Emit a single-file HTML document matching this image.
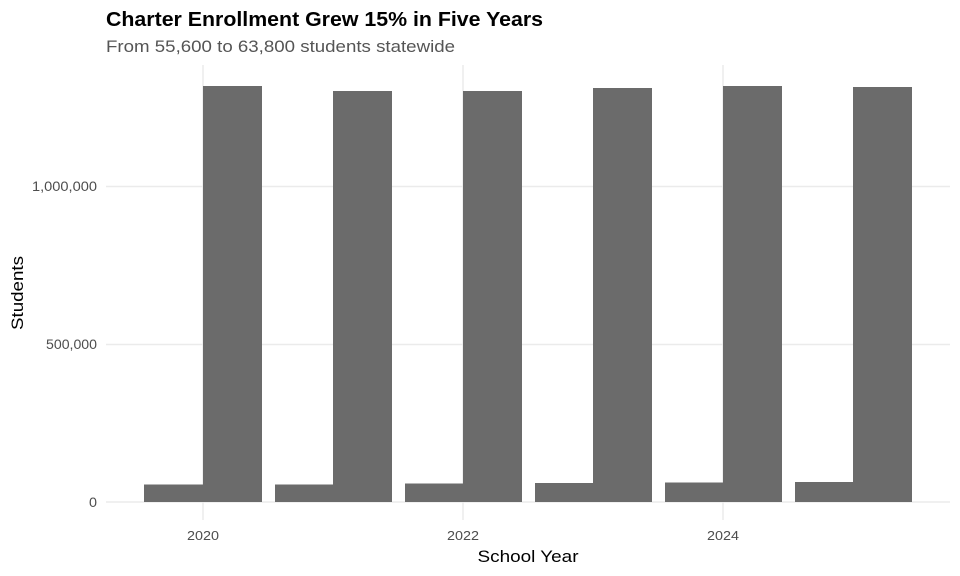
<!DOCTYPE html>
<html><head><meta charset="utf-8"><style>
body{margin:0;background:#fff}
svg{display:block}
text{font-family:"Liberation Sans",Arial,sans-serif}
</style></head><body>
<svg width="960" height="576" xmlns="http://www.w3.org/2000/svg">
<rect width="960" height="576" fill="#fff"/>
<g stroke="#ebebeb" stroke-width="1.5">
<line x1="106" x2="950" y1="502" y2="502"/>
<line x1="106" x2="950" y1="344.5" y2="344.5"/>
<line x1="106" x2="950" y1="186.5" y2="186.5"/>
<line x1="203" x2="203" y1="65" y2="520"/>
<line x1="463" x2="463" y1="65" y2="520"/>
<line x1="723" x2="723" y1="65" y2="520"/>
</g>
<g fill="#6b6b6b">
<rect x="144" y="484.5" width="59" height="17.5"/><rect x="203" y="86" width="59" height="416"/>
<rect x="275" y="484.5" width="58" height="17.5"/><rect x="333" y="91" width="59" height="411"/>
<rect x="405" y="483.5" width="58" height="18.5"/><rect x="463" y="91" width="59" height="411"/>
<rect x="535" y="483" width="58" height="19"/><rect x="593" y="88" width="59" height="414"/>
<rect x="665" y="482.5" width="58" height="19.5"/><rect x="723" y="86" width="59" height="416"/>
<rect x="795" y="482" width="58" height="20"/><rect x="853" y="87" width="59" height="415"/>
</g>
<g fill="#4d4d4d" font-size="14" text-anchor="end">
<text x="97" y="507" textLength="8" lengthAdjust="spacingAndGlyphs">0</text>
<text x="97" y="349" textLength="51" lengthAdjust="spacingAndGlyphs">500,000</text>
<text x="97" y="191" textLength="65" lengthAdjust="spacingAndGlyphs">1,000,000</text>
</g>
<g fill="#4d4d4d" font-size="13" text-anchor="middle">
<text x="203" y="540" textLength="32" lengthAdjust="spacingAndGlyphs">2020</text>
<text x="463" y="540" textLength="32" lengthAdjust="spacingAndGlyphs">2022</text>
<text x="723" y="540" textLength="32" lengthAdjust="spacingAndGlyphs">2024</text>
</g>
<text x="528" y="562" font-size="17" text-anchor="middle" fill="#000" textLength="101" lengthAdjust="spacingAndGlyphs">School Year</text>
<text transform="translate(23,293) rotate(-90)" font-size="17" text-anchor="middle" fill="#000" textLength="74" lengthAdjust="spacingAndGlyphs">Students</text>
<text x="106" y="26" font-size="20" font-weight="bold" fill="#000" textLength="437" lengthAdjust="spacingAndGlyphs">Charter Enrollment Grew 15% in Five Years</text>
<text x="106" y="52" font-size="17" fill="#555" textLength="349" lengthAdjust="spacingAndGlyphs">From 55,600 to 63,800 students statewide</text>
</svg>
</body></html>
